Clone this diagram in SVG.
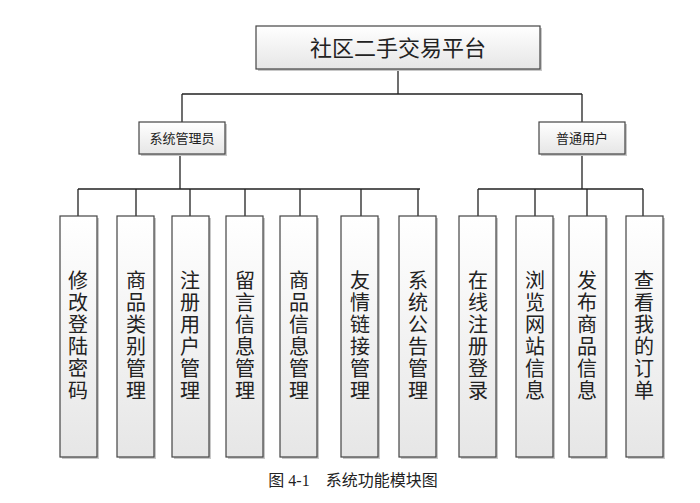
<svg xmlns="http://www.w3.org/2000/svg" width="700" height="503" viewBox="0 0 700 503">
<defs>
<linearGradient id="g" x1="0" y1="0" x2="0" y2="1"><stop offset="0" stop-color="#ffffff"/><stop offset="1" stop-color="#e6e6e6"/></linearGradient>
<style>
.b{fill:url(#g);stroke:#444;stroke-width:1.2}
.s{fill:#c8c8c8}
.t{font-family:"Noto Sans CJK SC","Noto Sans CJK JP",sans-serif;fill:#222;text-anchor:middle}
.v{font-family:"Noto Sans CJK SC","Noto Sans CJK JP",sans-serif;fill:#222;text-anchor:middle;writing-mode:vertical-rl;text-orientation:upright;font-size:20px;letter-spacing:2px}
.c{stroke:#222;stroke-width:1.3;fill:none}
</style>
</defs>
<rect width="700" height="503" fill="#fff"/>
<g id="connectors">
<path class="c" d="M398 69V94M182 94H582M182 94V122M582 94V122M180 154V189M78 189H420M78 189V216M136 189V216M190 189V216M245 189V216M300 189V216M361 189V216M418 189V216M582 154V189M478 189H643M478 189V216M535 189V216M587 189V216M643 189V216"/>
</g>
<g id="root"><rect class="s" x="258" y="28" width="284" height="43"/><rect class="b" x="256" y="26" width="284" height="43"/><text class="t" x="398" y="56" font-size="22">社区二手交易平台</text></g>
<g id="admin"><rect class="s" x="141" y="124" width="86" height="32"/><rect class="b" x="139" y="122" width="86" height="32"/><text class="t" x="182" y="143" font-size="13">系统管理员</text></g>
<g id="user"><rect class="s" x="541" y="124" width="86" height="32"/><rect class="b" x="539" y="122" width="86" height="32"/><text class="t" x="582" y="143" font-size="13">普通用户</text></g>
<g id="leaf1"><rect class="s" x="62" y="218" width="37" height="241"/><rect class="b" x="60" y="216" width="37" height="241"/><text class="v" x="78" y="336">修改登陆密码</text></g>
<g id="leaf2"><rect class="s" x="119" y="218" width="37" height="241"/><rect class="b" x="117" y="216" width="37" height="241"/><text class="v" x="136" y="336">商品类别管理</text></g>
<g id="leaf3"><rect class="s" x="174" y="218" width="37" height="241"/><rect class="b" x="172" y="216" width="37" height="241"/><text class="v" x="190" y="336">注册用户管理</text></g>
<g id="leaf4"><rect class="s" x="228" y="218" width="37" height="241"/><rect class="b" x="226" y="216" width="37" height="241"/><text class="v" x="245" y="336">留言信息管理</text></g>
<g id="leaf5"><rect class="s" x="282" y="218" width="37" height="241"/><rect class="b" x="280" y="216" width="37" height="241"/><text class="v" x="299" y="336">商品信息管理</text></g>
<g id="leaf6"><rect class="s" x="343" y="218" width="37" height="241"/><rect class="b" x="341" y="216" width="37" height="241"/><text class="v" x="360" y="336">友情链接管理</text></g>
<g id="leaf7"><rect class="s" x="401" y="218" width="37" height="241"/><rect class="b" x="399" y="216" width="37" height="241"/><text class="v" x="418" y="336">系统公告管理</text></g>
<g id="leaf8"><rect class="s" x="461" y="218" width="37" height="241"/><rect class="b" x="459" y="216" width="37" height="241"/><text class="v" x="478" y="336">在线注册登录</text></g>
<g id="leaf9"><rect class="s" x="518" y="218" width="37" height="241"/><rect class="b" x="516" y="216" width="37" height="241"/><text class="v" x="535" y="336">浏览网站信息</text></g>
<g id="leaf10"><rect class="s" x="571" y="218" width="37" height="241"/><rect class="b" x="569" y="216" width="37" height="241"/><text class="v" x="587" y="336">发布商品信息</text></g>
<g id="leaf11"><rect class="s" x="628" y="218" width="37" height="241"/><rect class="b" x="626" y="216" width="37" height="241"/><text class="v" x="644" y="336">查看我的订单</text></g>
<text x="353" y="486" font-size="16" style="font-family:'Liberation Serif','Noto Sans CJK SC',serif;text-anchor:middle;fill:#222" xml:space="preserve">图 4-1    系统功能模块图</text>
</svg>
